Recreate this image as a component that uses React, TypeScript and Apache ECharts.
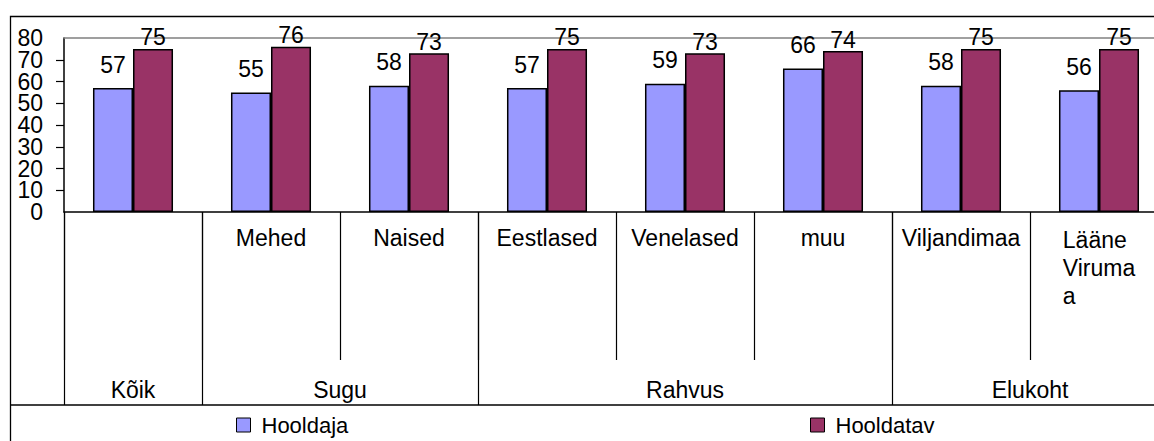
import React, { useEffect, useRef } from "react";
import * as echarts from "echarts";

const categories = ["", "Mehed", "Naised", "Eestlased", "Venelased", "muu", "Viljandimaa", "Lääne\nViruma\na"];
const hooldaja = [57, 55, 58, 57, 59, 66, 58, 56];
const hooldatav = [75, 76, 73, 75, 73, 74, 75, 75];
const groupNames = ["Kõik", "Sugu", "Rahvus", "Elukoht"];
const groupSpans = [1, 2, 3, 2];
const seriesNames = ["Hooldaja", "Hooldatav"];
const yMin = 0;
const yMax = 80;
const yStep = 10;

const FONT = "'Liberation Sans', Arial, sans-serif";
const FS = 23;

export default function App() {
  const ref = useRef<HTMLDivElement>(null);

  useEffect(() => {
    if (!ref.current) return;
    const chart = echarts.init(ref.current, null, { renderer: "svg" });

    const bounds: number[] = [0];
    const centres: number[] = [];
    const centreName: Record<string, string> = {};
    groupSpans.forEach((s, i) => {
      const start = bounds[bounds.length - 1];
      const end = start + s;
      bounds.push(end);
      const c = (start + end) / 2;
      centres.push(c);
      centreName[String(c)] = groupNames[i];
    });

    const legendCommon = {
      top: 414,
      padding: 0,
      itemWidth: 14,
      itemHeight: 14,
      icon: "rect",
      itemStyle: { borderColor: "#000", borderWidth: 1 },
      textStyle: { fontSize: FS - 1, fontFamily: FONT, color: "#000", padding: [0, 0, 0, 6] },
    };

    const yLabel = {
      margin: 21,
      fontSize: FS,
      fontFamily: FONT,
      color: "#000",
      hideOverlap: false,
    };

    chart.setOption({
      animation: false,
      textStyle: { fontFamily: FONT, color: "#000" },
      grid: { left: 64, top: 38, width: 1104, height: 174, containLabel: false },
      legend: [
        { ...legendCommon, data: [seriesNames[0]], left: 236 },
        { ...legendCommon, data: [seriesNames[1]], left: 810 },
      ],
      xAxis: [
        {
          type: "category",
          position: "bottom",
          offset: 0,
          data: categories,
          boundaryGap: true,
          axisLine: { show: true, lineStyle: { color: "#000", width: 1.5 } },
          axisTick: { show: true, alignWithLabel: false, interval: 0, length: 148, lineStyle: { color: "#000", width: 1.2 } },
          axisLabel: {
            interval: 0,
            margin: 14,
            fontSize: FS,
            fontFamily: FONT,
            color: "#000",
            hideOverlap: false,
            formatter: (v: string) =>
              v.indexOf("\n") >= 0 ? v.split("\n").map((s) => `{l|${s}}`).join("\n") : v,
            rich: {
              l: { align: "left", fontSize: FS, fontFamily: FONT, color: "#000", lineHeight: 28 },
            },
          },
          splitLine: { show: false },
        },
        {
          type: "value",
          position: "bottom",
          offset: 0,
          min: 0,
          max: categories.length,
          axisLine: { show: false },
          axisTick: {
            show: true,
            customValues: bounds,
            length: 193,
            lineStyle: { color: "#000", width: 1.2 },
          },
          axisLabel: {
            show: true,
            customValues: centres,
            margin: 166,
            fontSize: FS,
            fontFamily: FONT,
            color: "#000",
            formatter: (v: number) => centreName[String(v)] || "",
          },
          splitLine: { show: false },
        },
        {
          type: "category",
          position: "top",
          data: categories,
          axisLine: { show: true, lineStyle: { color: "#808080", width: 1.5 } },
          axisTick: { show: false },
          axisLabel: { show: false },
          splitLine: { show: false },
        },
      ],
      yAxis: [
        {
          type: "value",
          position: "left",
          offset: 0,
          min: yMin,
          max: yMax,
          interval: yStep,
          axisLine: { show: true, lineStyle: { color: "#000", width: 1.5 } },
          axisTick: { show: true, inside: false, length: 8, lineStyle: { color: "#000", width: 1.2 } },
          axisLabel: { ...yLabel, showMinLabel: false, showMaxLabel: false },
          splitLine: { show: false },
        },
        {
          type: "value",
          position: "left",
          offset: 0,
          min: yMin,
          max: yMax,
          interval: yStep,
          axisLine: { show: false },
          axisTick: { show: false },
          axisLabel: { ...yLabel, customValues: [yMin, yMax] },
          splitLine: { show: false },
        },
      ],
      graphic: [
        {
          type: "rect",
          shape: { x: 10.5, y: 16.5, width: 1300, height: 600 },
          style: { fill: "none", stroke: "#000", lineWidth: 1.3 },
          silent: true,
        },
        {
          type: "line",
          shape: { x1: 10, y1: 405, x2: 1300, y2: 405 },
          style: { stroke: "#000", lineWidth: 1.3 },
          silent: true,
        },
      ],
      series: [
        {
          name: seriesNames[0],
          type: "bar",
          xAxisIndex: 0,
          yAxisIndex: 0,
          data: hooldaja,
          barGap: "0%",
          barCategoryGap: "42%",
          itemStyle: { color: "#9999FF", borderColor: "#000", borderWidth: 1.5 },
          label: { show: true, position: "top", distance: 12, fontSize: FS, fontFamily: FONT, color: "#000" },
        },
        {
          name: seriesNames[1],
          type: "bar",
          xAxisIndex: 0,
          yAxisIndex: 0,
          data: hooldatav,
          barGap: "0%",
          barCategoryGap: "42%",
          itemStyle: { color: "#993366", borderColor: "#000", borderWidth: 1.5 },
          label: { show: true, position: "top", distance: 0, fontSize: FS, fontFamily: FONT, color: "#000" },
        },
      ],
    });

    return () => chart.dispose();
  }, []);

  return (
    <div style={{ position: "fixed", left: 0, top: 0, width: 1154, height: 441, overflow: "hidden", background: "#fff" }}>
      <div ref={ref} style={{ width: 1200, height: 441 }} />
    </div>
  );
}
